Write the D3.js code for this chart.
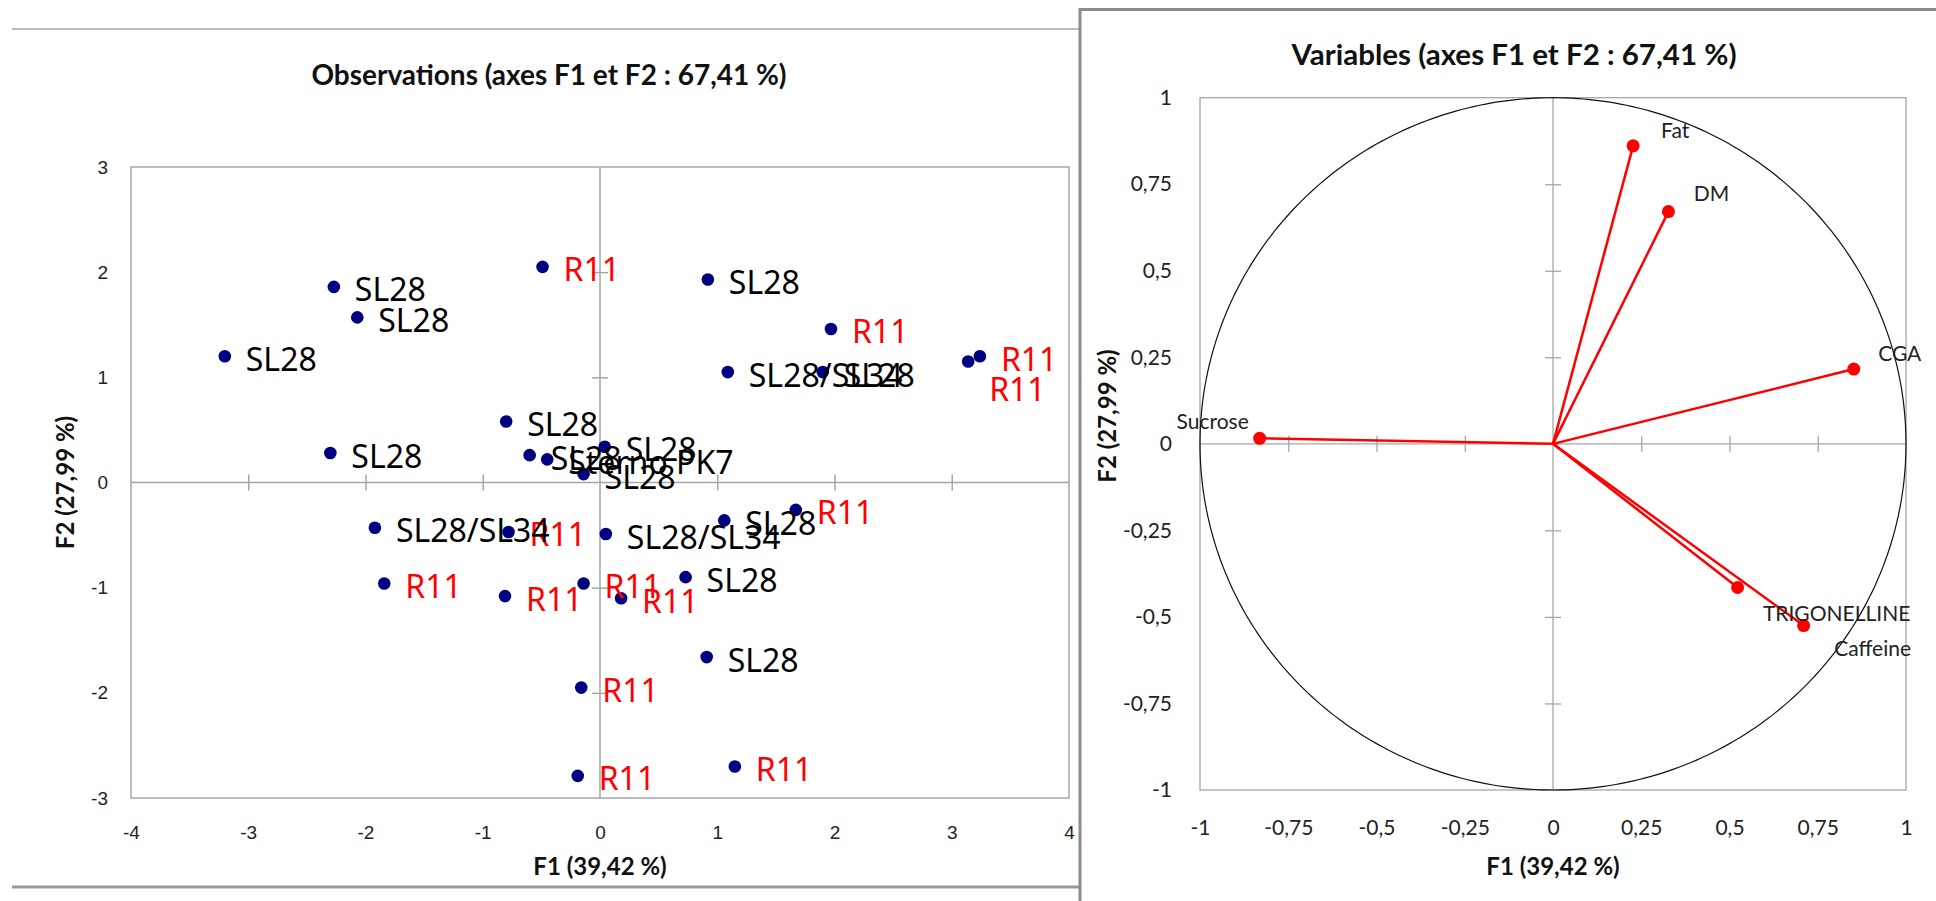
<!DOCTYPE html>
<html>
<head>
<meta charset="utf-8">
<script src="https://cdn.jsdelivr.net/npm/d3@7"></script>
<style>
  body { margin: 0; background: #fff; }
  svg { display: block; }
</style>
</head>
<body>
<script>
// ---- Data: observations (scores on F1/F2) ----
const obsLabels = [
    "SL28", "SL28", "SL28", "R11", "SL28", "SL28",
    "SL28", "Sterno PK7", "SL28", "SL28",
    "SL28", "SL28/SL34", "SL28", "R11", "R11", "R11",
    "R11", "SL28/SL34", "SL28", "R11",
    "R11", "R11", "SL28", "SL28",
    "R11", "R11", "R11", "R11", "SL28/SL34", "R11"
];
const obsF1 = [
    -2.27, -2.07, -3.20, -0.49, -0.80, -2.30,
    -0.60, -0.45, 0.04, -0.14,
    0.92, 1.09, 1.90, 1.97, 3.14, 3.24,
    -0.78, 0.05, 1.06, 1.67,
    -0.14, 0.18, 0.73, 0.91,
    -0.16, -0.19, 1.15, -0.81, -1.92, -1.84
];
const obsF2 = [
    1.86, 1.57, 1.20, 2.05, 0.58, 0.28,
    0.26, 0.22, 0.34, 0.08,
    1.93, 1.05, 1.05, 1.46, 1.15, 1.20,
    -0.47, -0.49, -0.36, -0.26,
    -0.96, -1.10, -0.90, -1.66,
    -1.95, -2.79, -2.70, -1.08, -0.43, -0.96
];

// ---- Data: variables (correlations with F1/F2) ----
const varNames = ["Fat", "DM", "CGA", "Sucrose", "TRIGONELLINE", "Caffeine"];
const varF1 = [0.227, 0.327, 0.852, -0.831, 0.523, 0.710];
const varF2 = [0.861, 0.671, 0.216, 0.016, -0.415, -0.525];

// ---- Tick values ----
const obsXTicks = [-4, -3, -2, -1, 0, 1, 2, 3, 4];
const obsYTicks = [-3, -2, -1, 0, 1, 2, 3];
const varTicks = [-1, -0.75, -0.5, -0.25, 0, 0.25, 0.5, 0.75, 1];

const titleObs = "Observations (axes F1 et F2 : 67,41 %)";
const titleVar = "Variables (axes F1 et F2 : 67,41 %)";
const labelF1 = "F1 (39,42 %)";
const labelF2 = "F2 (27,99 %)";

// label placement tweaks (pixels), kept apart from the data
const obsLabelNudge = {14: [0, 25]};
const varLabelShift = {
    "Fat": [42, -16], "DM": [43, -19], "CGA": [46, -17],
    "Sucrose": [-47, -18], "TRIGONELLINE": [99, 25], "Caffeine": [69, 22]
};

let svg = null;
let xObs, yObs, xVar, yVar = null;

const calibri = "Lato, 'Open Sans', sans-serif";
const gridGray = "#a6a6a6";

// Main Process
appendSvg("body");
drawPanels();
setupObsScales();
drawObsChart();
setupVarScales();
drawVarChart();

function appendSvg(domElement) {
    svg = d3.select(domElement).append("svg")
            .attr("width", 1936)
            .attr("height", 901);
}

// outer frames of both panels
function drawPanels() {
    svg.append("line")
        .attr("x1", 12).attr("x2", 1080).attr("y1", 29).attr("y2", 29)
        .attr("stroke", gridGray).attr("stroke-width", 1.5);
    svg.append("line")
        .attr("x1", 12).attr("x2", 1080).attr("y1", 887).attr("y2", 887)
        .attr("stroke", "#999").attr("stroke-width", 3);
    svg.append("path")
        .attr("d", "M1080,901 L1080,9.5 L1936,9.5")
        .attr("fill", "none")
        .attr("stroke", "#8c8c8c").attr("stroke-width", 3);
}

function frenchNum(d) {
    return String(d).replace(".", ",");
}

function setupObsScales() {
    xObs = d3.scaleLinear().domain([-4, 4]).range([131, 1069]);
    yObs = d3.scaleLinear().domain([-3, 3]).range([798, 167]);
}

function drawObsChart() {
    let g = svg.append("g");

    // plot frame
    g.append("rect")
        .attr("x", xObs(-4)).attr("y", yObs(3))
        .attr("width", xObs(4) - xObs(-4))
        .attr("height", yObs(-3) - yObs(3))
        .attr("fill", "none").attr("stroke", gridGray).attr("stroke-width", 1.5);

    // zero lines
    g.append("line")
        .attr("x1", xObs(-4)).attr("x2", xObs(4))
        .attr("y1", yObs(0)).attr("y2", yObs(0))
        .attr("stroke", gridGray).attr("stroke-width", 1.5);
    g.append("line")
        .attr("x1", xObs(0)).attr("x2", xObs(0))
        .attr("y1", yObs(-3)).attr("y2", yObs(3))
        .attr("stroke", gridGray).attr("stroke-width", 1.5);

    // tick marks crossing the zero lines
    g.append("g")
        .attr("transform", `translate(0, ${yObs(0) - 8})`)
        .call(d3.axisBottom(xObs).tickValues(obsXTicks.filter(d => d != 0 && Math.abs(d) < 4))
              .tickSize(16).tickFormat(""))
        .call(a => a.select(".domain").remove())
        .selectAll("line").attr("stroke", gridGray).attr("stroke-width", 1.5);
    g.append("g")
        .attr("transform", `translate(${xObs(0) - 8}, 0)`)
        .call(d3.axisRight(yObs).tickValues(obsYTicks.filter(d => d != 0 && Math.abs(d) < 3))
              .tickSize(16).tickFormat(""))
        .call(a => a.select(".domain").remove())
        .selectAll("line").attr("stroke", gridGray).attr("stroke-width", 1.5);

    // tick labels at the frame edges
    let xa = g.append("g")
        .attr("transform", `translate(0, ${yObs(-3) + 24})`)
        .call(d3.axisBottom(xObs).tickValues(obsXTicks).tickSize(0).tickFormat(d => String(d)));
    xa.select(".domain").remove();
    xa.selectAll("text")
        .attr("font-family", "'Liberation Sans', Arial, sans-serif")
        .attr("font-size", 19).attr("fill", "#222");

    let ya = g.append("g")
        .attr("transform", `translate(${xObs(-4) - 20}, 0)`)
        .call(d3.axisLeft(yObs).tickValues(obsYTicks).tickSize(0).tickFormat(d => String(d)));
    ya.select(".domain").remove();
    ya.selectAll("text")
        .attr("font-family", "'Liberation Sans', Arial, sans-serif")
        .attr("font-size", 19).attr("fill", "#222");

    // titles
    g.append("text")
        .attr("x", 549).attr("y", 85)
        .attr("text-anchor", "middle")
        .attr("font-family", calibri).attr("font-weight", "bold")
        .attr("font-size", 28).attr("fill", "#111")
        .attr("textLength", 475).attr("lengthAdjust", "spacingAndGlyphs")
        .text(titleObs);
    g.append("text")
        .attr("x", xObs(0)).attr("y", 875)
        .attr("text-anchor", "middle")
        .attr("font-family", calibri).attr("font-weight", "bold")
        .attr("font-size", 24).attr("fill", "#111")
        .text(labelF1);
    g.append("text")
        .attr("transform", `translate(74, ${yObs(0)}) rotate(-90)`)
        .attr("text-anchor", "middle")
        .attr("font-family", calibri).attr("font-weight", "bold")
        .attr("font-size", 24).attr("fill", "#111")
        .text(labelF2);

    // points
    let idx = d3.range(obsF1.length);
    g.selectAll("circle.obs").data(idx).enter()
        .append("circle")
        .attr("class", "obs")
        .attr("cx", i => xObs(obsF1[i]))
        .attr("cy", i => yObs(obsF2[i]))
        .attr("r", 6.3)
        .attr("fill", "#000080");

    // point labels
    g.selectAll("text.obs").data(idx).enter()
        .append("text")
        .attr("class", "obs")
        .attr("x", i => xObs(obsF1[i]) + 21 + (obsLabelNudge[i] ? obsLabelNudge[i][0] : 0))
        .attr("y", i => yObs(obsF2[i]) + 2 + (obsLabelNudge[i] ? obsLabelNudge[i][1] : 0))
        .attr("dominant-baseline", "central")
        .attr("font-family", "'Noto Sans', 'Open Sans', sans-serif")
        .attr("font-size", 32)
        .attr("fill", i => obsLabels[i] == "R11" ? "#ff0000" : "#000")
        .text(i => obsLabels[i]);
}

function setupVarScales() {
    xVar = d3.scaleLinear().domain([-1, 1]).range([1200, 1906]);
    yVar = d3.scaleLinear().domain([-1, 1]).range([790, 97.7]);
}

function drawVarChart() {
    let g = svg.append("g");

    g.append("rect")
        .attr("x", xVar(-1)).attr("y", yVar(1))
        .attr("width", xVar(1) - xVar(-1))
        .attr("height", yVar(-1) - yVar(1))
        .attr("fill", "none").attr("stroke", gridGray).attr("stroke-width", 1.3);

    g.append("line")
        .attr("x1", xVar(-1)).attr("x2", xVar(1))
        .attr("y1", yVar(0)).attr("y2", yVar(0))
        .attr("stroke", gridGray).attr("stroke-width", 1.3);
    g.append("line")
        .attr("x1", xVar(0)).attr("x2", xVar(0))
        .attr("y1", yVar(-1)).attr("y2", yVar(1))
        .attr("stroke", gridGray).attr("stroke-width", 1.3);

    g.append("g")
        .attr("transform", `translate(0, ${yVar(0) - 8})`)
        .call(d3.axisBottom(xVar).tickValues(varTicks.filter(d => d != 0 && Math.abs(d) < 1))
              .tickSize(16).tickFormat(""))
        .call(a => a.select(".domain").remove())
        .selectAll("line").attr("stroke", gridGray).attr("stroke-width", 1.3);
    g.append("g")
        .attr("transform", `translate(${xVar(0) - 8}, 0)`)
        .call(d3.axisRight(yVar).tickValues(varTicks.filter(d => d != 0 && Math.abs(d) < 1))
              .tickSize(16).tickFormat(""))
        .call(a => a.select(".domain").remove())
        .selectAll("line").attr("stroke", gridGray).attr("stroke-width", 1.3);

    let xa = g.append("g")
        .attr("transform", `translate(0, ${yVar(-1) + 27})`)
        .call(d3.axisBottom(xVar).tickValues(varTicks).tickSize(0).tickFormat(frenchNum));
    xa.select(".domain").remove();
    xa.selectAll("text")
        .attr("font-family", calibri).attr("font-size", 21).attr("fill", "#222");

    let ya = g.append("g")
        .attr("transform", `translate(${xVar(-1) - 25}, 0)`)
        .call(d3.axisLeft(yVar).tickValues(varTicks).tickSize(0).tickFormat(frenchNum));
    ya.select(".domain").remove();
    ya.selectAll("text")
        .attr("font-family", calibri).attr("font-size", 21).attr("fill", "#222");

    // correlation circle
    let circle = d3.line()
        .x(a => xVar(Math.cos(a * Math.PI / 180)))
        .y(a => yVar(Math.sin(a * Math.PI / 180)));
    g.append("path")
        .attr("d", circle(d3.range(0, 361, 1)))
        .attr("fill", "none").attr("stroke", "#111").attr("stroke-width", 1.2);

    // titles
    g.append("text")
        .attr("x", 1514).attr("y", 65)
        .attr("text-anchor", "middle")
        .attr("font-family", calibri).attr("font-weight", "bold")
        .attr("font-size", 28).attr("fill", "#111")
        .attr("textLength", 445).attr("lengthAdjust", "spacingAndGlyphs")
        .text(titleVar);
    g.append("text")
        .attr("x", xVar(0)).attr("y", 875)
        .attr("text-anchor", "middle")
        .attr("font-family", calibri).attr("font-weight", "bold")
        .attr("font-size", 24).attr("fill", "#111")
        .text(labelF1);
    g.append("text")
        .attr("transform", `translate(1116, 416) rotate(-90)`)
        .attr("text-anchor", "middle")
        .attr("font-family", calibri).attr("font-weight", "bold")
        .attr("font-size", 24).attr("fill", "#111")
        .text(labelF2);

    // vectors
    let idx = d3.range(varNames.length);
    g.selectAll("line.vec").data(idx).enter()
        .append("line")
        .attr("class", "vec")
        .attr("x1", xVar(0)).attr("y1", yVar(0))
        .attr("x2", i => xVar(varF1[i]))
        .attr("y2", i => yVar(varF2[i]))
        .attr("stroke", "#ff0000").attr("stroke-width", 2.5);
    g.selectAll("circle.vec").data(idx).enter()
        .append("circle")
        .attr("class", "vec")
        .attr("cx", i => xVar(varF1[i]))
        .attr("cy", i => yVar(varF2[i]))
        .attr("r", 6.5)
        .attr("fill", "#ff0000");

    g.selectAll("text.vec").data(idx).enter()
        .append("text")
        .attr("class", "vec")
        .attr("x", i => xVar(varF1[i]) + varLabelShift[varNames[i]][0])
        .attr("y", i => yVar(varF2[i]) + varLabelShift[varNames[i]][1])
        .attr("text-anchor", "middle")
        .attr("dominant-baseline", "central")
        .attr("font-family", calibri).attr("font-size", 21).attr("fill", "#222")
        .text(i => varNames[i]);
}
</script>
</body>
</html>
